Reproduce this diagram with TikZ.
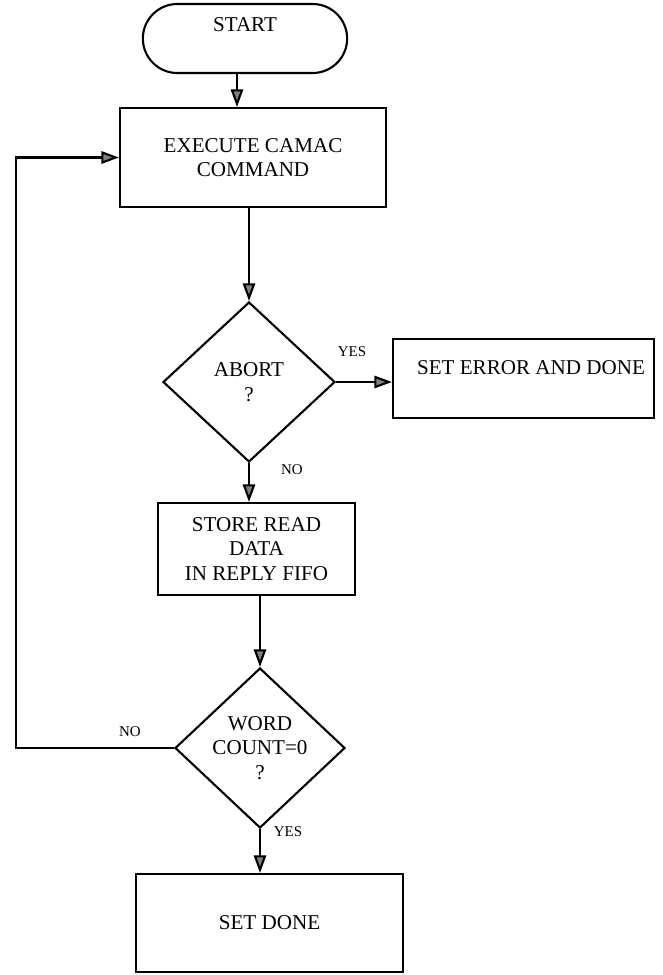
\documentclass[tikz,border=0pt]{standalone}
\usepackage{fontspec}
\setmainfont{Liberation Serif}
\usetikzlibrary{shapes.geometric,shapes.misc,arrows.meta}

\begin{document}
\begin{tikzpicture}[> = {Triangle[length = 10pt, width = 7pt, fill = gray]}, line width = 1.2pt,
            font = \fontsize{12}{14}\selectfont,
            box/.style = {draw, rectangle, align = center},
            term/.style = {draw, rounded rectangle},
            test/.style = {draw, diamond, align = center, inner sep = 0pt},
            tag/.style = {font = \fontsize{8.5}{10}\selectfont}]
            \useasboundingbox (0, 0) rectangle (13.24, -19.5);

            \node[term, minimum width = 4.32cm, minimum height = 1.38cm,
                label = {[anchor = center, yshift = -0.44cm]north:START}] (start) at (4.9, -0.77) {};
            \node[box, minimum width = 5.32cm, minimum height = 1.98cm] (exec) at (5.06, -3.15) {EXECUTE CAMAC\\COMMAND};
            \node[test, minimum width = 3.44cm, minimum height = 3.2cm] (abort) at (4.98, -7.64) {ABORT\\?};
            \node[box, minimum width = 5.22cm, minimum height = 1.58cm,
                label = {[anchor = center, xshift = 0.15cm, yshift = 0.21cm]center:SET ERROR AND DONE}] (err) at (10.47, -7.57) {};
            \node[box, minimum width = 3.94cm, minimum height = 1.84cm] (store) at (5.13, -10.98) {STORE READ\\DATA\\IN REPLY FIFO};
            \node[test, minimum width = 3.4cm, minimum height = 3.2cm] (word) at (5.2, -14.96) {WORD\\COUNT=0\\?};
            \node[box, minimum width = 5.34cm, minimum height = 1.96cm] (done) at (5.39, -18.46) {SET DONE};

            \coordinate (col) at (4.74, 0);
            \coordinate (back) at (0.32, 0);

            \draw[->] (start.south -| col) -- (exec.north -| col);
            \draw[->] (exec.south -| abort.north) -- (abort.north);
            \draw[->] (abort.east) -- (abort.east -| err.west);
            \draw[->] (abort.south) -- (abort.south |- store.north);
            \draw[->] (store.south -| word.north) -- (word.north);
            \draw[->] (word.south) -- (word.south |- done.north);
            \draw[->] (word.west) -- (word.west -| back) |- (exec.west);

            \node[tag] (yes1) at (7.04, -7.04) {YES};
            \node[tag] (no1) at (5.84, -9.4) {NO};
            \node[tag] (no2) at (2.6, -14.64) {NO};
            \node[tag] (yes2) at (5.76, -16.64) {YES};

        \end{tikzpicture}
\end{document}
